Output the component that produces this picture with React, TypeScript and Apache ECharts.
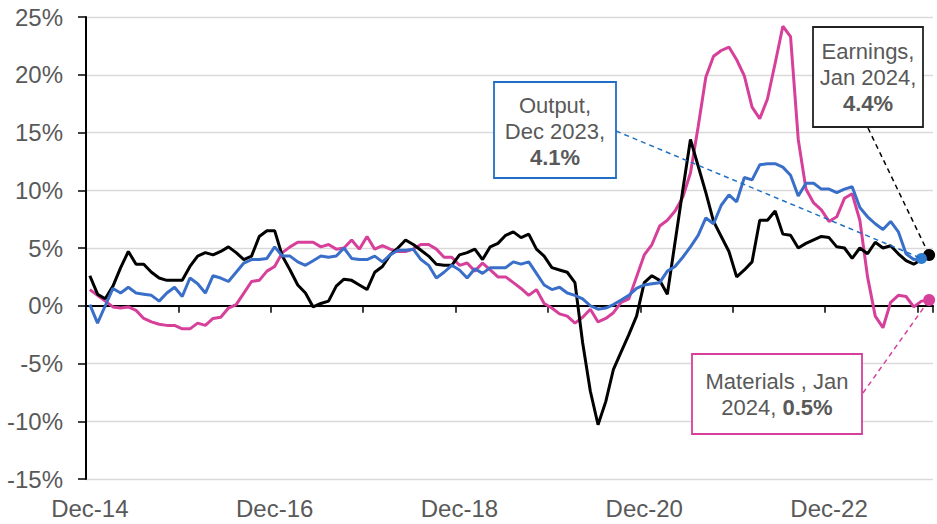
import React, { useEffect, useRef } from "react";
import * as echarts from "echarts";

const categories = [
  "Dec-14",
  "Jan-15","Feb-15","Mar-15","Apr-15","May-15","Jun-15","Jul-15","Aug-15","Sep-15","Oct-15","Nov-15","Dec-15",
  "Jan-16","Feb-16","Mar-16","Apr-16","May-16","Jun-16","Jul-16","Aug-16","Sep-16","Oct-16","Nov-16","Dec-16",
  "Jan-17","Feb-17","Mar-17","Apr-17","May-17","Jun-17","Jul-17","Aug-17","Sep-17","Oct-17","Nov-17","Dec-17",
  "Jan-18","Feb-18","Mar-18","Apr-18","May-18","Jun-18","Jul-18","Aug-18","Sep-18","Oct-18","Nov-18","Dec-18",
  "Jan-19","Feb-19","Mar-19","Apr-19","May-19","Jun-19","Jul-19","Aug-19","Sep-19","Oct-19","Nov-19","Dec-19",
  "Jan-20","Feb-20","Mar-20","Apr-20","May-20","Jun-20","Jul-20","Aug-20","Sep-20","Oct-20","Nov-20","Dec-20",
  "Jan-21","Feb-21","Mar-21","Apr-21","May-21","Jun-21","Jul-21","Aug-21","Sep-21","Oct-21","Nov-21","Dec-21",
  "Jan-22","Feb-22","Mar-22","Apr-22","May-22","Jun-22","Jul-22","Aug-22","Sep-22","Oct-22","Nov-22","Dec-22",
  "Jan-23","Feb-23","Mar-23","Apr-23","May-23","Jun-23","Jul-23","Aug-23","Sep-23","Oct-23","Nov-23","Dec-23",
  "Jan-24",
];

const output: (number | null)[] = [
  0.1, -1.5, 0.0, 1.5, 1.1, 1.6, 1.1, 1.0, 0.9, 0.4,
  1.1, 1.6, 0.8, 2.4, 1.9, 1.1, 2.6, 2.4, 2.1, 2.9,
  3.7, 4.0, 4.0, 4.1, 5.1, 4.3, 4.3, 3.8, 3.5, 3.9,
  4.3, 4.2, 4.3, 5.0, 4.1, 4.0, 4.0, 4.3, 3.8, 4.4,
  4.8, 4.8, 4.9, 4.0, 3.5, 2.4, 2.9, 3.5, 3.1, 2.4,
  3.2, 2.8, 3.3, 3.3, 3.3, 3.8, 3.6, 3.8, 2.8, 1.8,
  1.4, 1.6, 1.1, 0.9, 0.6, 0.0, -0.3, -0.2, 0.1, 0.5,
  0.9, 1.5, 1.8, 1.9, 2.0, 3.0, 3.4, 4.2, 5.1, 6.1,
  7.6, 7.1, 8.7, 9.6, 9.0, 11.1, 10.9, 12.2, 12.3, 12.3,
  12.0, 11.3, 9.5, 10.6, 10.6, 10.1, 10.1, 9.8, 10.1, 10.3,
  8.5, 7.7, 7.1, 6.6, 7.3, 6.4, 4.5, 4.0, 4.1, null,
];

const earnings: number[] = [
  2.6, 1.0, 0.6, 1.7, 3.3, 4.7, 3.6, 3.6, 2.9, 2.4,
  2.2, 2.2, 2.2, 3.4, 4.3, 4.6, 4.4, 4.7, 5.1, 4.6,
  4.0, 4.3, 6.0, 6.5, 6.5, 4.3, 3.1, 1.8, 1.1, -0.1,
  0.2, 0.4, 1.7, 2.3, 2.2, 1.8, 1.4, 2.9, 3.4, 4.4,
  5.0, 5.7, 5.3, 4.8, 4.3, 3.6, 3.5, 3.5, 4.4, 4.6,
  4.9, 4.0, 5.1, 5.4, 6.1, 6.4, 5.9, 6.2, 4.9, 4.3,
  3.3, 3.1, 2.9, 2.0, -3.2, -7.4, -10.3, -8.3, -5.5, -4.0,
  -2.5, -0.9, 2.0, 2.6, 2.2, 1.0, 5.5, 10.0, 14.4, 12.1,
  9.8, 7.3, 6.0, 4.7, 2.5, 3.1, 3.8, 7.4, 7.4, 8.2,
  6.2, 6.1, 5.0, 5.4, 5.7, 6.0, 5.9, 5.1, 5.0, 4.1,
  5.0, 4.5, 5.5, 5.0, 5.2, 4.5, 3.9, 3.6, 4.0, 4.4,
];

const materials: number[] = [
  1.4, 0.9, 0.4, -0.1, -0.2, -0.1, -0.4, -1.1, -1.4, -1.6,
  -1.7, -1.7, -2.0, -2.0, -1.5, -1.7, -1.1, -1.0, -0.2, 0.1,
  1.1, 2.1, 2.2, 3.0, 3.4, 4.6, 5.1, 5.5, 5.5, 5.5,
  5.1, 5.3, 4.9, 5.0, 5.7, 4.9, 6.0, 4.9, 5.2, 4.9,
  4.7, 4.7, 4.9, 5.3, 5.3, 4.9, 4.2, 4.2, 3.5, 3.7,
  3.0, 3.7, 3.1, 2.5, 2.5, 2.0, 1.5, 0.9, 1.4, 0.2,
  -0.2, -0.7, -0.9, -1.5, -1.0, -0.3, -1.4, -1.1, -0.6, 0.3,
  0.6, 2.5, 4.4, 5.3, 6.9, 7.4, 8.2, 9.4, 11.5, 15.5,
  19.8, 21.6, 22.1, 22.4, 21.3, 19.9, 17.2, 16.2, 17.9, 21.0,
  24.2, 23.3, 14.4, 10.1, 8.9, 8.3, 7.3, 7.7, 9.3, 9.7,
  7.4, 2.5, -0.9, -1.9, 0.3, 0.9, 0.8, -0.1, 0.4, 0.5,
];

const yTicks = [-15, -10, -5, 0, 5, 10, 15, 20, 25];

const outputLabel = ["Output,", "Dec 2023,", "4.1%"];
const earningsLabel = ["Earnings,", "Jan 2024,", "4.4%"];
const materialsLabel = ["Materials , Jan", "2024, ", "0.5%"];

const BLUE = "#3A6FC9";
const BLUE_DOT = "#2E7BD0";
const BLUE_BOX = "#1F6FC4";
const PINK = "#D6409A";
const BLACK = "#000000";
const TEXT = "#595959";
const FONT = "'Liberation Sans', Arial, sans-serif";

function lastIndex(arr: (number | null)[]) {
  for (let i = arr.length - 1; i >= 0; i--) if (arr[i] != null) return i;
  return -1;
}

function lineSeries(name: string, arr: (number | null)[], color: string, dotColor: string, dotSize: number, z: number) {
  const li = lastIndex(arr);
  return {
    name,
    type: "line",
    xAxisIndex: 0,
    yAxisIndex: 0,
    data: arr,
    showSymbol: true,
    symbol: (_v: any, p: any) => (p.dataIndex === li ? "circle" : "none"),
    symbolSize: (_v: any, p: any) => (p.dataIndex === li ? dotSize : 0),
    lineStyle: { color, width: 3 },
    itemStyle: { color: dotColor, borderWidth: 0 },
    emphasis: { disabled: true },
    z,
  };
}

export default function App() {
  const ref = useRef<HTMLDivElement>(null);

  useEffect(() => {
    if (!ref.current) return;
    const chart = echarts.init(ref.current, null, { renderer: "svg" });

    const rich = {
      n: { fontSize: 22, fill: TEXT, fontFamily: FONT, lineHeight: 26, align: "center" },
      b: { fontSize: 22, fill: TEXT, fontFamily: FONT, lineHeight: 26, fontWeight: "bold", align: "center" },
    };

    chart.setOption({
      animation: false,
      backgroundColor: "#ffffff",
      grid: { left: 86, right: 4, top: 17, bottom: 45, containLabel: false },
      xAxis: [
        {
          type: "category",
          data: categories,
          boundaryGap: true,
          axisLine: { onZero: true, lineStyle: { color: BLACK, width: 2 } },
          axisTick: { show: true, interval: 11, length: 7, lineStyle: { color: BLACK, width: 1.5 } },
          axisLabel: { show: false },
          splitLine: { show: false },
        },
        {
          type: "category",
          data: categories,
          boundaryGap: true,
          position: "bottom",
          axisLine: { show: false, onZero: false },
          axisTick: { show: false },
          axisLabel: { interval: 23, margin: 17, fontSize: 24, color: TEXT, fontFamily: FONT },
          splitLine: { show: false },
        },
      ],
      yAxis: {
        type: "value",
        min: yTicks[0],
        max: yTicks[yTicks.length - 1],
        interval: yTicks[1] - yTicks[0],
        axisLine: { show: true, lineStyle: { color: BLACK, width: 2 } },
        axisTick: { show: true, length: 8, lineStyle: { color: BLACK, width: 1.5 } },
        axisLabel: {
          formatter: (v: number) => `${v}%`,
          fontSize: 24,
          color: TEXT,
          margin: 23,
          fontFamily: FONT,
        },
        splitLine: { show: true, lineStyle: { color: "#d9d9d9", width: 1.3 } },
      },
      series: [
        lineSeries("Materials", materials, PINK, PINK, 12, 2),
        lineSeries("Earnings", earnings, BLACK, BLACK, 12, 3),
        lineSeries("Output", output, BLUE, BLUE_DOT, 11, 4),
      ],
    });

    const toPx = (arr: (number | null)[]) => {
      const i = lastIndex(arr);
      return chart.convertToPixel({ xAxisIndex: 0, yAxisIndex: 0 }, [i, arr[i] as number]) as number[];
    };
    const pOut = toPx(output);
    const pEarn = toPx(earnings);
    const pMat = toPx(materials);

    chart.setOption({
      graphic: [
        {
          type: "line",
          z: 90,
          shape: { x1: 616, y1: 131, x2: pOut[0], y2: pOut[1] },
          style: { stroke: BLUE_BOX, lineWidth: 1.5, lineDash: [5, 4] },
        },
        {
          type: "line",
          z: 90,
          shape: { x1: 868, y1: 128, x2: pEarn[0], y2: pEarn[1] },
          style: { stroke: BLACK, lineWidth: 1.5, lineDash: [5, 4] },
        },
        {
          type: "line",
          z: 90,
          shape: { x1: 863, y1: 393, x2: pMat[0], y2: pMat[1] },
          style: { stroke: PINK, lineWidth: 1.5, lineDash: [5, 4] },
        },
        {
          type: "rect",
          z: 100,
          shape: { x: 494, y: 82, width: 122, height: 96 },
          style: { fill: "#ffffff", stroke: BLUE_BOX, lineWidth: 1.8 },
        },
        {
          type: "text",
          z: 101,
          x: 555,
          y: 131,
          style: {
            text: `{n|${outputLabel[0]}}\n{n|${outputLabel[1]}}\n{b|${outputLabel[2]}}`,
            rich,
            align: "center",
            verticalAlign: "middle",
            fill: TEXT,
            font: `22px ${FONT}`,
          },
        },
        {
          type: "rect",
          z: 100,
          shape: { x: 813, y: 27, width: 110, height: 100 },
          style: { fill: "#ffffff", stroke: "#222222", lineWidth: 1.8 },
        },
        {
          type: "text",
          z: 101,
          x: 868,
          y: 77,
          style: {
            text: `{n|${earningsLabel[0]}}\n{n|${earningsLabel[1]}}\n{b|${earningsLabel[2]}}`,
            rich,
            align: "center",
            verticalAlign: "middle",
            fill: TEXT,
            font: `22px ${FONT}`,
          },
        },
        {
          type: "rect",
          z: 100,
          shape: { x: 692, y: 354, width: 170, height: 80 },
          style: { fill: "#ffffff", stroke: PINK, lineWidth: 1.8 },
        },
        {
          type: "text",
          z: 101,
          x: 777,
          y: 394,
          style: {
            text: `{n|${materialsLabel[0]}}\n{n|${materialsLabel[1]}}{b|${materialsLabel[2]}}`,
            rich,
            align: "center",
            verticalAlign: "middle",
            fill: TEXT,
            font: `22px ${FONT}`,
          },
        },
      ],
    });

    return () => {
      chart.dispose();
    };
  }, []);

  return (
    <div
      ref={ref}
      style={{ position: "absolute", left: 0, top: 0, width: 937, height: 524, background: "#fff" }}
    />
  );
}
